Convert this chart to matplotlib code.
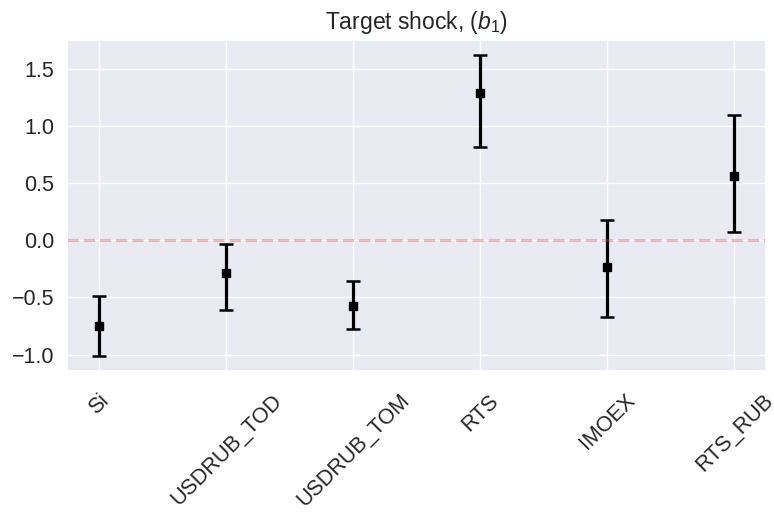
import matplotlib
matplotlib.use("Agg")
import matplotlib.pyplot as plt
import seaborn as sns
import numpy as np

categories = ["Si", "USDRUB_TOD", "USDRUB_TOM", "RTS", "IMOEX", "RTS_RUB"]
estimates = [-0.75, -0.29, -0.58, 1.29, -0.235, 0.56]
upper = [-0.49, -0.03, -0.36, 1.62, 0.18, 1.09]
lower = [-1.01, -0.61, -0.78, 0.81, -0.67, 0.07]

sns.set_theme(style="darkgrid")
plt.rcParams['font.family'] = ['Liberation Sans', 'DejaVu Sans']
plt.rcParams['mathtext.fontset'] = 'custom'
plt.rcParams['mathtext.it'] = 'Liberation Sans:italic'
plt.rcParams['mathtext.rm'] = 'Liberation Sans'

fig, ax = plt.subplots(figsize=(7.74, 5.17), dpi=100)
x = np.arange(len(categories))
est = np.array(estimates)
yerr = np.vstack([est - np.array(lower), np.array(upper) - est])
ax.errorbar(x, est, yerr=yerr, fmt='s', color='black', ecolor='black',
            capsize=5, elinewidth=2.3, capthick=1.8, markersize=6.2)
ax.axhline(0, color='r', linestyle='--', alpha=0.35, linewidth=2.2)
ax.set_xticks(x)
ax.set_xticklabels(categories, rotation=45, fontsize=15.5)
ax.tick_params(axis='y', labelsize=15.5)
ax.tick_params(axis='x', pad=8)
ax.set_title("Target shock, ($b_1$)", fontsize=16.5, pad=8)
fig.subplots_adjust(left=0.087, right=0.99, top=0.923, bottom=0.283)
fig.savefig("out.png", dpi=100)
